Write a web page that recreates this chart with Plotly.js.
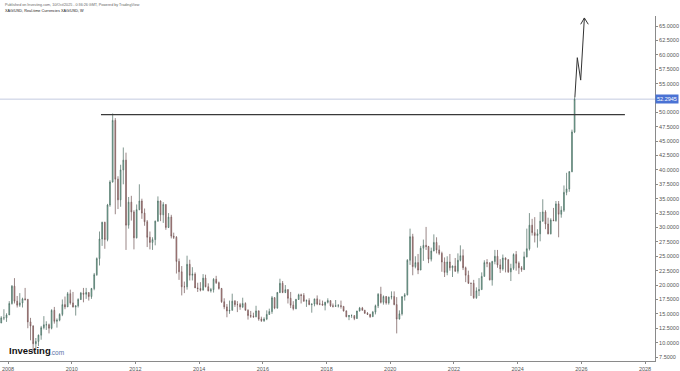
<!DOCTYPE html>
<html>
<head>
<meta charset="utf-8">
<script src="https://cdn.plot.ly/plotly-3.0.1.min.js"></script>
<style>
html,body{margin:0;padding:0;background:#fff;}
#chart{width:680px;height:371px;}
</style>
</head>
<body>
<div id="chart"></div>
<script>
// Monthly XAG/USD OHLC, Oct 2007 .. Oct 2025 (read/estimated from the reference)
const firstMonth = [2007, 10];
const openP = [
13.4,14.3,14.3,
14.8,16.8,19.8,17.2,16.5,16.9,17.6,17.5,13.6,12.9,9.8,10.2,
11.3,12.6,13.1,13.1,12.5,15.6,13.7,13.9,14.9,16.6,16.2,18.5,
16.9,16.2,16.4,17.5,18.6,18.4,18.7,18.0,19.4,21.8,24.6,28.0,
30.9,27.9,33.9,37.9,48.6,38.4,34.8,40.0,41.7,30.4,34.4,32.7,
28.2,33.1,34.6,32.5,31.0,28.3,27.4,27.9,31.1,34.6,32.2,34.0,
30.0,31.8,28.5,28.3,24.1,22.3,19.7,19.7,23.6,21.7,21.9,19.5,
19.4,19.1,21.2,19.7,19.0,19.2,21.0,20.4,19.4,17.1,16.2,15.5,
15.6,17.2,16.6,16.6,16.2,16.8,15.6,14.7,14.6,14.5,15.5,14.1,
13.8,14.1,14.9,15.4,17.8,16.0,18.7,20.3,18.7,19.2,17.7,16.5,
15.9,17.5,18.3,18.2,17.2,17.3,16.6,16.7,17.6,16.7,16.7,16.5,
17.0,17.3,16.4,16.3,16.4,16.4,16.3,15.5,14.5,14.7,14.7,14.2,
15.5,16.0,15.6,15.1,14.9,14.5,15.3,16.4,18.4,17.0,18.0,16.9,
17.9,18.0,16.6,14.1,15.0,18.0,18.3,24.3,28.4,23.2,23.9,22.6,
26.4,26.9,26.7,24.5,25.9,27.4,26.1,25.5,24.0,22.2,24.0,23.0,
23.3,22.4,24.3,25.1,23.0,21.7,20.3,20.3,17.8,19.0,19.2,21.5,
23.9,23.8,20.9,24.1,25.0,23.5,22.8,24.7,24.4,22.3,22.9,25.3,
23.8,23.0,22.7,24.9,26.3,30.4,29.1,28.6,28.9,31.1,32.7,30.6,
28.9,31.3,31.2,34.1,32.3,33.0,36.1,36.7,39.7,46.6
];
const highP = [
14.6,15.8,15.1,
17.2,20.0,21.2,18.1,18.6,17.8,19.5,17.6,14.3,13.0,10.8,11.4,
12.9,14.6,13.7,13.3,15.8,16.2,14.2,15.1,17.5,18.0,18.8,19.2,
18.8,16.4,17.7,18.8,19.5,19.5,18.7,19.5,22.1,24.8,29.3,31.0,
31.0,34.1,38.2,49.8,49.0,38.9,40.9,43.9,43.0,35.3,35.5,33.0,
34.0,37.5,35.0,33.3,31.3,29.3,28.3,31.2,35.4,34.7,34.4,34.0,
32.5,32.2,29.1,28.5,24.6,23.3,20.6,25.1,24.4,23.1,22.2,20.4,
20.5,21.9,21.8,20.3,19.5,21.2,21.6,20.6,19.5,17.7,16.7,17.3,
18.5,17.4,17.2,16.9,17.8,17.0,15.8,15.5,15.2,16.4,15.6,14.5,
14.4,15.6,15.9,18.1,17.9,18.8,21.1,20.7,20.0,19.3,18.8,17.2,
17.6,18.5,18.5,18.6,17.5,17.7,16.8,17.6,18.2,17.5,17.3,17.1,
17.7,17.3,16.8,17.4,16.7,17.3,16.3,15.6,14.8,14.9,14.7,15.5,
16.2,16.2,15.7,15.3,15.0,15.5,16.6,18.6,19.7,18.2,18.1,18.0,
18.9,18.9,17.9,15.6,18.0,18.6,24.5,29.8,28.9,25.0,25.4,26.8,
27.9,30.1,26.8,26.5,28.8,28.3,26.9,25.8,24.8,25.0,25.4,23.4,
24.7,25.5,26.9,26.2,23.2,22.5,20.4,20.9,19.6,21.2,22.2,24.3,
24.5,24.0,24.2,26.1,26.1,24.5,25.3,24.8,24.5,23.7,25.5,25.9,
24.1,23.3,25.8,29.8,32.5,31.5,31.8,29.7,32.7,34.9,33.0,31.7,
31.6,33.4,34.6,34.6,33.7,37.3,39.5,39.8,47.0,52.6
];
const lowP = [
13.4,13.9,13.6,
14.8,16.6,16.8,16.1,16.2,16.1,17.3,12.5,10.4,8.4,8.9,9.4,
10.5,12.3,12.2,11.6,12.3,13.3,12.6,13.7,14.6,15.8,16.2,16.6,
16.1,14.7,16.1,17.4,17.0,17.6,17.3,17.6,19.1,21.6,23.4,26.8,
26.3,27.6,33.6,37.8,32.3,33.2,33.6,37.5,26.1,29.8,31.2,26.2,
28.1,33.0,31.5,30.3,26.6,26.2,26.1,26.9,31.0,31.1,30.8,29.6,
29.9,28.1,28.0,22.0,20.9,18.2,18.6,19.2,20.8,20.8,19.5,18.8,
18.9,19.1,19.6,18.9,18.7,18.7,20.2,19.2,16.9,15.8,14.4,15.0,
15.6,16.2,15.3,15.7,16.0,15.6,14.0,14.3,14.3,14.4,13.8,13.6,
13.6,13.9,14.8,15.0,15.8,15.9,18.6,18.6,18.6,16.8,16.0,15.6,
15.8,17.4,16.8,17.1,16.2,16.5,15.2,16.3,16.5,16.5,16.5,15.6,
16.8,16.2,16.1,16.2,16.1,15.9,15.4,14.4,13.9,14.3,13.9,14.1,
15.4,15.6,15.0,14.8,14.3,14.5,14.9,16.0,16.8,16.6,16.6,16.6,
17.5,16.5,11.6,14.0,14.7,17.3,18.2,23.5,21.7,22.9,21.9,22.6,
24.2,26.1,23.8,24.1,25.9,25.5,25.2,22.3,21.4,21.7,22.5,21.4,
22.3,22.0,24.1,22.6,20.5,20.2,18.1,17.6,17.6,18.1,19.2,21.5,
23.1,20.8,19.9,23.6,23.0,22.1,22.5,22.2,22.1,20.7,22.6,22.5,
21.9,22.3,22.6,24.8,26.0,28.6,27.4,26.5,27.6,31.0,29.7,28.8,
28.8,31.1,31.0,28.3,31.7,32.7,35.6,36.2,39.6,46.4
];
const closeP = [
14.3,14.3,14.8,
16.8,19.8,17.2,16.5,16.9,17.6,17.5,13.6,12.9,9.8,10.2,11.3,
12.6,13.1,13.1,12.5,15.6,13.7,13.9,14.9,16.6,16.2,18.5,16.9,
16.2,16.4,17.5,18.6,18.4,18.7,18.0,19.4,21.8,24.6,28.0,30.9,
27.9,33.9,37.9,48.6,38.4,34.8,40.0,41.7,30.4,34.4,32.7,28.2,
33.1,34.6,32.5,31.0,28.3,27.4,27.9,31.1,34.6,32.2,34.0,30.0,
31.8,28.5,28.3,24.1,22.3,19.7,19.7,23.6,21.7,21.9,19.5,19.4,
19.1,21.2,19.7,19.0,19.2,21.0,20.4,19.4,17.1,16.2,15.5,15.6,
17.2,16.6,16.6,16.2,16.8,15.6,14.7,14.6,14.5,15.5,14.1,13.8,
14.1,14.9,15.4,17.8,16.0,18.7,20.3,18.7,19.2,17.7,16.5,15.9,
17.5,18.3,18.2,17.2,17.3,16.6,16.7,17.6,16.7,16.7,16.5,17.0,
17.3,16.4,16.3,16.4,16.4,16.3,15.5,14.5,14.7,14.7,14.2,15.5,
16.0,15.6,15.1,14.9,14.5,15.3,16.4,18.4,17.0,18.0,16.9,17.9,
18.0,16.6,14.1,15.0,18.0,18.3,24.3,28.4,23.2,23.9,22.6,26.4,
26.9,26.7,24.5,25.9,27.4,26.1,25.5,24.0,22.2,24.0,23.0,23.3,
22.4,24.3,25.1,23.0,21.7,20.3,20.3,17.8,19.0,19.2,21.5,23.9,
23.8,20.9,24.1,25.0,23.5,22.8,24.7,24.4,22.3,22.9,25.3,23.8,
23.0,22.7,24.9,26.3,30.4,29.1,28.6,28.9,31.1,32.7,30.6,28.9,
31.3,31.2,34.1,32.3,33.0,36.1,36.7,39.7,46.6,52.2945
];
const lastPrice = 52.2945;

// Drawn annotations on the chart
const levelX = ['2010-12-02', '2027-05-15'];
const levelY = [49.6, 49.6];
const arrowX = ['2025-10-18', '2025-11-15', '2025-12-24', '2026-02-04'];
const arrowY = [52.6, 59.5, 55.6, 66.4];
const headX = ['2025-12-24', '2026-02-04', '2026-03-21'];
const headY = [65.3, 66.4, 65.3];

const tickYears = ['2008','2010','2012','2014','2016','2018','2020','2022','2024','2026','2028'];
// price scale labels (52.5000 sits under the last-price marker)
const yTicks = [7.5,10,12.5,15,17.5,20,22.5,25,27.5,30,32.5,35,37.5,40,42.5,45,47.5,50,55,57.5,60,62.5,65];

const headerLine1 = 'Published on Investing.com, 10/Oct/2025 - 0:36:26 GMT, Powered by TradingView';
const headerLine2 = 'XAG/USD, Real-time Currencies XAG/USD, W';

// calendar positions (mid-month) for each candle
const months = [];
for (let i = 0; i < closeP.length; i++) {
  const m0 = firstMonth[1] - 1 + i;
  const y = firstMonth[0] + Math.floor(m0 / 12);
  const m = (m0 % 12) + 1;
  months.push(y + '-' + String(m).padStart(2, '0') + '-15');
}

const candles = {
  type: 'candlestick',
  x: months, open: openP, high: highP, low: lowP, close: closeP,
  increasing: {line: {color: '#4b6a60', width: 0.7}, fillcolor: '#86d3b8'},
  decreasing: {line: {color: '#6e5252', width: 0.7}, fillcolor: '#e59a9a'},
  whiskerwidth: 0,
  hoverinfo: 'skip'
};
const level = {type: 'scatter', mode: 'lines', x: levelX, y: levelY,
  line: {color: '#3a3a3a', width: 1.3}, hoverinfo: 'skip'};
const arrow = {type: 'scatter', mode: 'lines', x: arrowX, y: arrowY,
  line: {color: '#333', width: 1}, hoverinfo: 'skip'};
const head = {type: 'scatter', mode: 'lines', x: headX, y: headY,
  line: {color: '#333', width: 1}, hoverinfo: 'skip'};

const fnt = 'Arial, "Liberation Sans", sans-serif';
const layout = {
  width: 680, height: 371,
  margin: {l: 0, r: 25, t: 16, b: 10, pad: 0},
  paper_bgcolor: '#ffffff', plot_bgcolor: '#ffffff',
  showlegend: false,
  boxgap: 0.55,
  font: {family: fnt, size: 5.5, color: '#555'},
  xaxis: {
    type: 'date', range: ['2007-10-01', '2028-04-24'],
    rangeslider: {visible: false},
    showgrid: false, zeroline: false,
    showline: true, linecolor: '#8a8a8a', linewidth: 1,
    ticks: 'outside', ticklen: 2, tickcolor: '#8a8a8a',
    tickvals: tickYears.map(y => y + '-01-01'), ticktext: tickYears,
    tickfont: {family: fnt, size: 5.5, color: '#555'},
    fixedrange: true
  },
  yaxis: {
    side: 'right', range: [6.805, 66.74],
    tickvals: yTicks, tickformat: '.4f',
    showgrid: false, zeroline: false,
    showline: true, linecolor: '#8a8a8a', linewidth: 1,
    ticks: 'outside', ticklen: 2, tickcolor: '#8a8a8a',
    tickfont: {family: fnt, size: 5.5, color: '#555'},
    fixedrange: true
  },
  shapes: [{
    type: 'line', xref: 'paper', x0: 0, x1: 1, yref: 'y', y0: lastPrice, y1: lastPrice,
    line: {color: '#c3cbe0', width: 1}, layer: 'below'
  }],
  annotations: [
    {xref: 'paper', yref: 'y', x: 1, y: lastPrice, xanchor: 'left', yanchor: 'middle',
     text: lastPrice.toFixed(4), showarrow: false, bgcolor: '#4a72d4',
     font: {family: fnt, size: 5.5, color: '#ffffff'}, borderpad: 1, xshift: 0},
    {xref: 'paper', yref: 'paper', x: 0.005, y: 1.032, xanchor: 'left', yanchor: 'middle',
     text: headerLine1, showarrow: false, font: {family: fnt, size: 3.7, color: '#666'}},
    {xref: 'paper', yref: 'paper', x: 0.005, y: 1.0145, xanchor: 'left', yanchor: 'middle',
     text: headerLine2, showarrow: false, font: {family: fnt, size: 3.8, color: '#222'}},
    {xref: 'paper', yref: 'paper', x: 0.011, y: 0.03, xanchor: 'left', yanchor: 'middle',
     text: '<b>Investing</b>', showarrow: false,
     font: {family: fnt, size: 9.5, color: '#111'}},
    {xref: 'paper', yref: 'paper', x: 0.0735, y: 0.026, xanchor: 'left', yanchor: 'middle',
     text: '.com', showarrow: false,
     font: {family: fnt, size: 6.5, color: '#5a74a8'}}
  ]
};

Plotly.newPlot('chart', [level, candles, arrow, head], layout, {displayModeBar: false, staticPlot: true});
</script>
</body>
</html>
